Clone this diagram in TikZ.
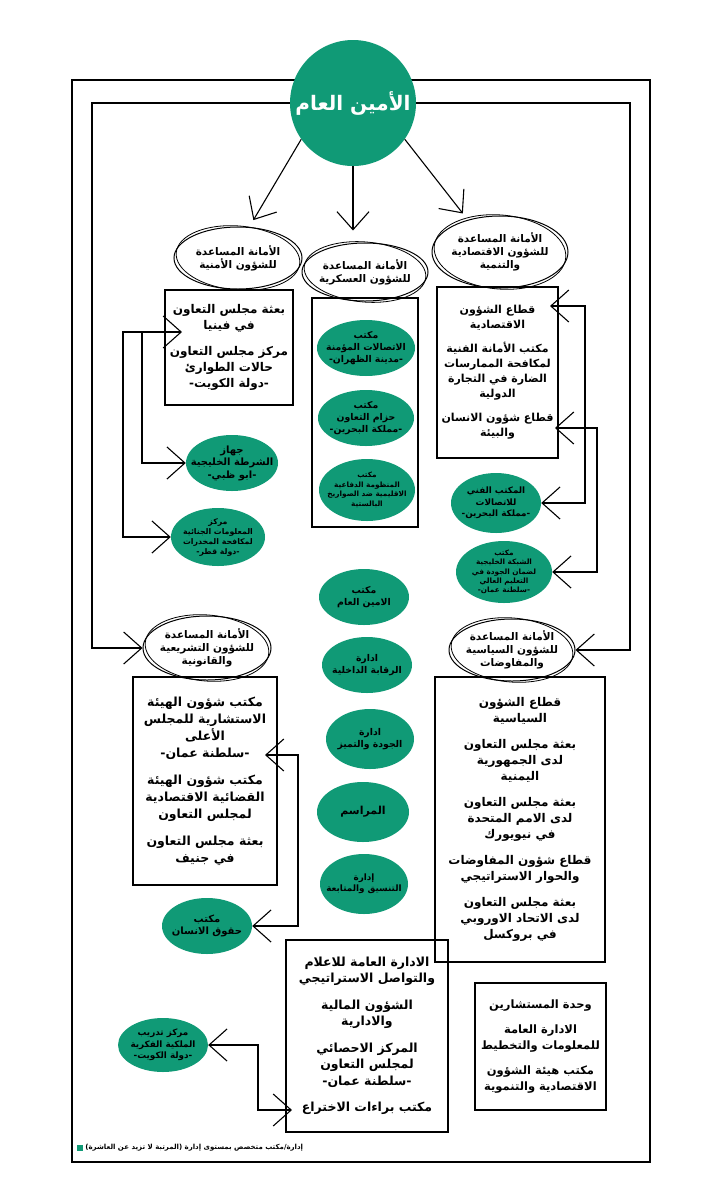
\documentclass[tikz,border=0pt]{standalone}
\usepackage{fontspec}
\usetikzlibrary{arrows.meta,shapes.geometric,calc}
\TeXXeTstate=1
\newfontfamily\arabicfont[Script=Arabic]{DejaVu Sans}
\newcommand{\ar}[1]{\beginR #1\endR}
\definecolor{cgreen}{RGB}{16,154,118}
\tikzset{
  bigbarb/.tip={Straight Barb[length=18pt,width=32pt]},
  ovalshape/.style={ellipse, draw, line width=1pt, inner sep=0pt},
  ovalloop/.style={line width=0.8pt},
  ovaltext/.style={align=center, inner sep=0pt, font=\arabicfont\bfseries\fontsize{10.5}{13}\selectfont},
  govshape/.style={ellipse, fill=cgreen, draw=none, inner sep=0pt},
  govtext/.style={align=center, inner sep=0pt},
  unitbox/.style={draw, line width=1.2pt, align=center, inner sep=3pt, font=\arabicfont\bfseries\fontsize{12}{16}\selectfont},
  conn/.style={line width=1.1pt, -bigbarb},
  dconn/.style={line width=1.1pt, bigbarb-bigbarb},
  frame/.style={line width=1.3pt},
}
% name, cx, cy, width, height, fontsize, baselineskip, text
\newcommand{\govnode}[8]{%
  \node[govshape, minimum width=#4pt, minimum height=#5pt] (#1) at (#2,#3) {};
  \node[govtext, font=\arabicfont\bfseries\fontsize{#6}{#7}\selectfont] (#1t) at (#1.center) {#8};
}
% name, cx, cy, rx, ry, text
\newcommand{\ovalnode}[6]{%
  \node[ovalshape, minimum width=2*#4pt, minimum height=2*#5pt] (#1) at (#2,#3) {};
  \draw[ovalloop, rotate around={-5:(#1.center)}] (#1.center) ellipse [x radius=#4pt-2pt, y radius=#5pt+1pt];
  \node[ovaltext] (#1t) at (#1.center) {#6};
}
\begin{document}
\begin{tikzpicture}[x=1pt, y=-1pt]
\fill[white] (0,0) rectangle (725,1200);
\useasboundingbox (0,0) rectangle (725,1200);

% outer frame
\draw[frame] (72,80) rectangle (650,1162);

% main circle
\node[circle, fill=cgreen, minimum size=126pt, inner sep=0pt, text=white,
      font=\arabicfont\bfseries\fontsize{20}{24}\selectfont] (main) at (353,103) {\ar{الأمين العام}};

% assistant secretariats (ovals)
\ovalnode{secov}{238}{258}{64}{31}{\ar{الأمانة المساعدة}\\\ar{للشؤون الأمنية}}
\ovalnode{milov}{365}{272}{63}{29}{\ar{الأمانة المساعدة}\\\ar{للشؤون العسكرية}}
\ovalnode{ecoov}{500}{252}{68}{36}{\ar{الأمانة المساعدة}\\\ar{للشؤون الاقتصادية}\\\ar{والتنمية}}
\ovalnode{legov}{207}{648}{64}{32}{\ar{الأمانة المساعدة}\\\ar{للشؤون التشريعية}\\\ar{والقانونية}}
\ovalnode{polov}{512}{650}{63}{31}{\ar{الأمانة المساعدة}\\\ar{للشؤون السياسية}\\\ar{والمفاوضات}}

% arrows from the secretary general
\draw[conn, shorten >=8pt] (main.215) -- (secov.70);
\draw[conn, shorten >=12pt] (main.south) -- (main.south |- milov.north);
\draw[conn, shorten >=8pt] (main.325) -- (ecoov.135);
\draw[conn] (main.west) -| (92,0 |- legov.west) -- (legov.west);
\draw[conn] (main.east) -| (630,0 |- polov.east) -- (polov.east);

% boxes
\node[unitbox, minimum width=128pt, minimum height=115pt] (secbox) at (229,347.5)
 {\ar{بعثة مجلس التعاون}\\\ar{في فينيا}\\[10pt]\ar{مركز مجلس التعاون}\\\ar{حالات الطوارئ}\\\ar{-دولة الكويت-}};
\node[draw, line width=1.2pt, minimum width=106pt, minimum height=229pt] (milbox) at (365,412.5) {};
\node[unitbox, font=\arabicfont\bfseries\fontsize{11}{15}\selectfont, minimum width=121pt, minimum height=171pt] (ecobox) at (497.5,372.5)
 {\ar{قطاع الشؤون}\\\ar{الاقتصادية}\\[9pt]\ar{مكتب الأمانة الفنية}\\\ar{لمكافحة الممارسات}\\\ar{الضارة في التجارة}\\\ar{الدولية}\\[9pt]\ar{قطاع شؤون الانسان}\\\ar{والبيئة}};
\node[unitbox, font=\arabicfont\bfseries\fontsize{12.5}{17}\selectfont, minimum width=144pt, minimum height=208pt] (legbox) at (205,781)
 {\ar{مكتب شؤون الهيئة}\\\ar{الاستشارية للمجلس}\\\ar{الأعلى}\\\ar{-سلطنة عمان-}\\[10pt]\ar{مكتب شؤون الهيئة}\\\ar{القضائية الاقتصادية}\\\ar{لمجلس التعاون}\\[10pt]\ar{بعثة مجلس التعاون}\\\ar{في جنيف}};
\node[unitbox, minimum width=170pt, minimum height=285pt] (polbox) at (520,819.5)
 {\ar{قطاع الشؤون}\\\ar{السياسية}\\[10pt]\ar{بعثة مجلس التعاون}\\\ar{لدى الجمهورية}\\\ar{اليمنية}\\[10pt]\ar{بعثة مجلس التعاون}\\\ar{لدى الامم المتحدة}\\\ar{في نيويورك}\\[10pt]\ar{قطاع شؤون المفاوضات}\\\ar{والحوار الاستراتيجي}\\[10pt]\ar{بعثة مجلس التعاون}\\\ar{لدى الاتحاد الاوروبي}\\\ar{في بروكسل}};
\node[unitbox, font=\arabicfont\bfseries\fontsize{12.5}{16.5}\selectfont, minimum width=162pt, minimum height=192pt] (medbox) at (367,1036)
 {\ar{الادارة العامة للاعلام}\\\ar{والتواصل الاستراتيجي}\\[10pt]\ar{الشؤون المالية}\\\ar{والادارية}\\[10pt]\ar{المركز الاحصائي}\\\ar{لمجلس التعاون}\\\ar{-سلطنة عمان-}\\[10pt]\ar{مكتب براءات الاختراع}};
\node[unitbox, font=\arabicfont\bfseries\fontsize{11.5}{15.5}\selectfont, minimum width=131pt, minimum height=127pt] (consbox) at (540.5,1046.5)
 {\ar{وحدة المستشارين}\\[10pt]\ar{الادارة العامة}\\\ar{للمعلومات والتخطيط}\\[10pt]\ar{مكتب هيئة الشؤون}\\\ar{الاقتصادية والتنموية}};

% green (department level) offices
\govnode{gpol}{232}{463}{92}{56}{10}{12.5}{\ar{جهاز}\\\ar{الشرطة الخليجية}\\\ar{-ابو ظبي-}}
\govnode{crim}{218}{537}{94}{58}{7.8}{10}{\ar{مركز}\\\ar{المعلومات الجنائية}\\\ar{لمكافحة المخدرات}\\\ar{-دولة قطر-}}
\govnode{mA}{366}{348}{98}{56}{9.3}{12}{\ar{مكتب}\\\ar{الاتصالات المؤمنة}\\\ar{-مدينة الظهران-}}
\govnode{mB}{366}{418}{96}{56}{9.3}{12}{\ar{مكتب}\\\ar{حزام التعاون}\\\ar{-مملكة البحرين-}}
\govnode{mC}{367}{490}{96}{62}{7.3}{9.5}{\ar{مكتب}\\\ar{المنظومة الدفاعية}\\\ar{الاقليمية ضد الصواريخ}\\\ar{البالستية}}
\govnode{tel}{496}{503}{90}{60}{8.8}{11.3}{\ar{المكتب الفني}\\\ar{للاتصالات}\\\ar{-مملكة البحرين-}}
\govnode{qa}{504}{572}{96}{62}{7.3}{9.3}{\ar{مكتب}\\\ar{الشبكة الخليجية}\\\ar{لضمان الجودة في}\\\ar{التعليم العالي}\\\ar{-سلطنة عمان-}}
\govnode{cA}{364}{597}{90}{56}{9.3}{12}{\ar{مكتب}\\\ar{الامين العام}}
\govnode{cB}{367}{665}{90}{56}{9.3}{12}{\ar{ادارة}\\\ar{الرقابة الداخلية}}
\govnode{cC}{370}{739}{88}{60}{9.3}{12}{\ar{ادارة}\\\ar{الجودة والتميز}}
\govnode{cD}{363}{812}{92}{60}{11}{13}{\ar{المراسم}}
\govnode{cE}{364}{884}{88}{60}{8.8}{11.3}{\ar{إدارة}\\\ar{التنسيق والمتابعة}}
\govnode{hr}{207}{926}{90}{56}{10}{12.5}{\ar{مكتب}\\\ar{حقوق الانسان}}
\govnode{ip}{163}{1045}{90}{54}{8.8}{11.3}{\ar{مركز تدريب}\\\ar{الملكية الفكرية}\\\ar{-دولة الكويت-}}

% side connectors
\coordinate (sa) at (182,332);
\coordinate (sb) at (142,332);
\draw[dconn] (sa) -- (123,332) |- (crim.west);
\draw[conn] (sb) |- (gpol.west);
\coordinate (ea) at (550,306);
\coordinate (eb) at (555,428);
\draw[dconn] (ea) -- (585,306) |- (tel.east);
\draw[dconn] (eb) -- (597,428) |- (qa.east);
\coordinate (la) at (265,755);
\draw[dconn] (la) -- (298,755) |- (hr.east);
\coordinate (ma) at (292,1110);
\draw[dconn] (ma) -- (258,1110) |- (ip.east);

% legend
\node[fill=cgreen, minimum size=6pt, inner sep=0pt] (lgsq) at (80,1148) {};
\node[anchor=west, inner sep=2pt, font=\arabicfont\bfseries\fontsize{7}{9}\selectfont] (lgtx) at (lgsq.east)
 {\ar{إدارة/مكتب متخصص بمستوى إدارة (المرتبة لا تزيد عن العاشرة)}};
\end{tikzpicture}
\end{document}
